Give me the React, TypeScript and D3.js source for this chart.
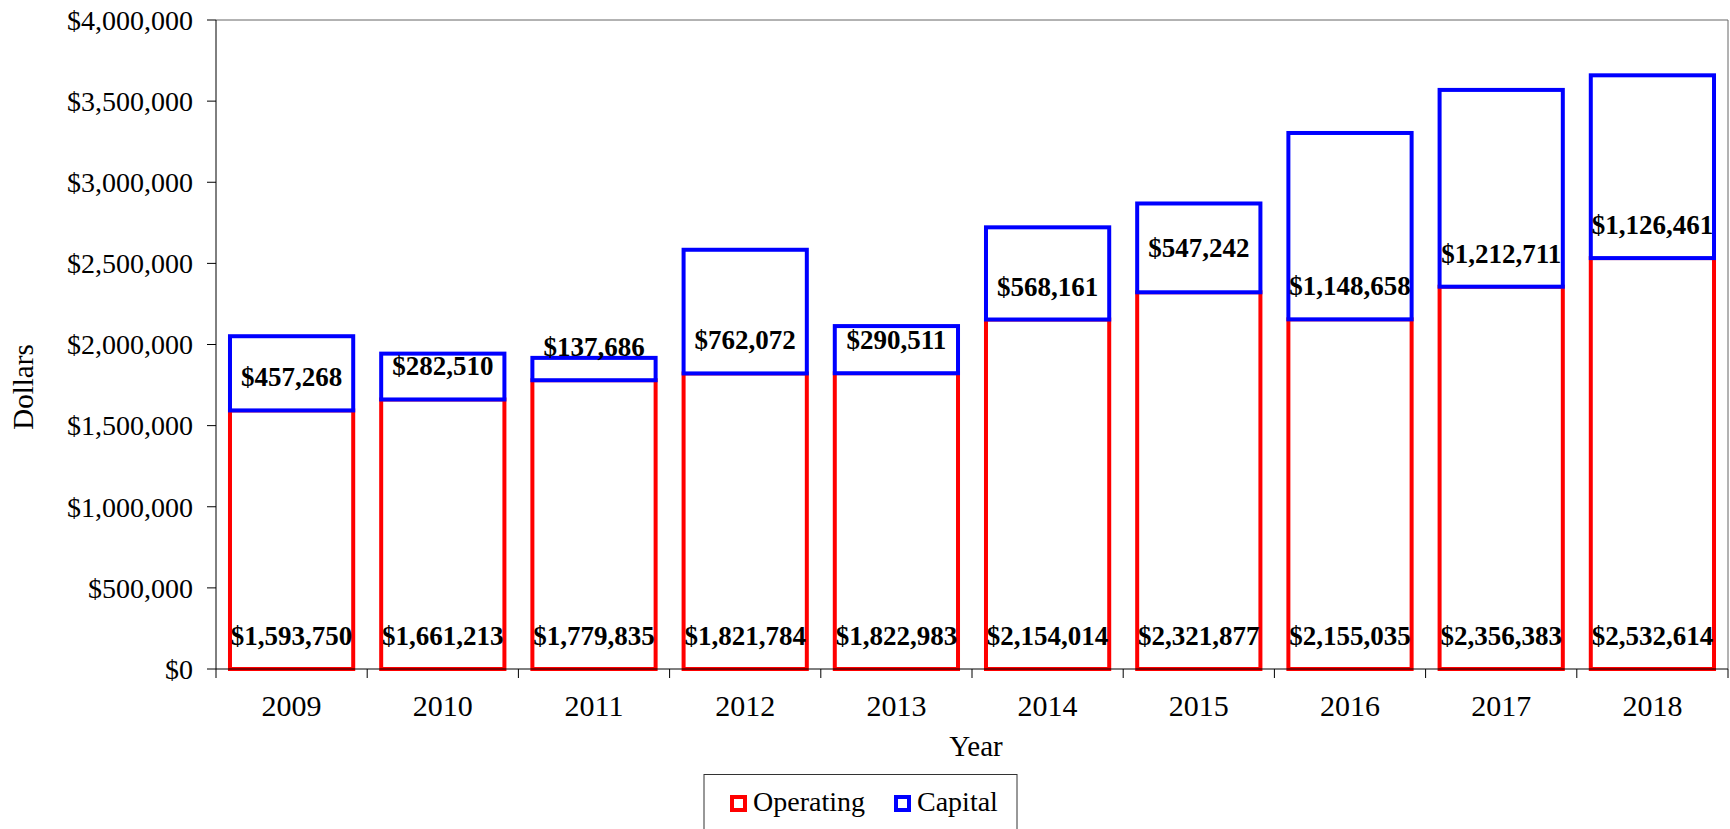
import * as d3 from "d3"

const years = ["2009", "2010", "2011", "2012", "2013", "2014", "2015", "2016", "2017", "2018"]
const operating = [1593750, 1661213, 1779835, 1821784, 1822983, 2154014, 2321877, 2155035, 2356383, 2532614]
const capital = [457268, 282510, 137686, 762072, 290511, 568161, 547242, 1148658, 1212711, 1126461]
const yTicks = [0, 500000, 1000000, 1500000, 2000000, 2500000, 3000000, 3500000, 4000000]

const W = 1730
const H = 829
const margin = { top: 20, right: 2, bottom: 160, left: 216 }
const font = "'Liberation Serif', 'Times New Roman', serif"
const RED = "#ff0000"
const BLUE = "#0000ff"

const fmt = (v: number) => "$" + d3.format(",")(v)

export default function App() {
  const x = d3.scaleBand<string>()
    .domain(years)
    .range([margin.left, W - margin.right])
    .paddingInner(0.185)
    .paddingOuter(0.0925)

  const y = d3.scaleLinear()
    .domain([0, 4000000])
    .range([H - margin.bottom, margin.top])

  const step = x.step()
  const x0 = margin.left
  const x1 = W - margin.right
  const y0 = y(0)
  const yTop = y(4000000)

  // labels sit just above the base of each segment; 2015's capital label was nudged up a bit
  const labelOffset = 24
  const capLift = (yr: string) => (yr === "2015" ? 11 : 0)

  return (
    <svg width={W} height={H} style={{ position: "absolute", left: 0, top: 0, background: "#fff" }}
      fontFamily={font}>
      {/* plot frame */}
      <line x1={x0} x2={x1} y1={yTop} y2={yTop} stroke="#666" strokeWidth={1} />
      <line x1={x1} x2={x1} y1={yTop} y2={y0} stroke="#666" strokeWidth={1} />

      {/* bars */}
      {years.map((yr, i) => {
        const bx = x(yr)!
        const bw = x.bandwidth()
        const op = operating[i]
        const cap = capital[i]
        return (
          <g key={yr}>
            <rect x={bx} width={bw} y={y(op)} height={y0 - y(op)} fill="#fff" stroke={RED} strokeWidth={4} />
            <rect x={bx} width={bw} y={y(op + cap)} height={y(op) - y(op + cap)} fill="#fff" stroke={BLUE} strokeWidth={4} />
          </g>
        )
      })}

      {/* data labels */}
      {years.map((yr, i) => {
        const cx = x(yr)! + x.bandwidth() / 2
        return (
          <g key={"lab" + yr} fontWeight="bold" fontSize={27} textAnchor="middle" fill="#000">
            <text x={cx} y={y0 - labelOffset}>{fmt(operating[i])}</text>
            <text x={cx} y={y(operating[i]) - labelOffset - capLift(yr)}>{fmt(capital[i])}</text>
          </g>
        )
      })}

      {/* y axis */}
      <line x1={x0} x2={x0} y1={yTop} y2={y0} stroke="#000" strokeWidth={1} />
      {yTicks.map(t => (
        <g key={t}>
          <line x1={x0 - 9} x2={x0} y1={y(t)} y2={y(t)} stroke="#000" strokeWidth={1} />
          <text x={193} y={y(t)} dy="0.35em" textAnchor="end" fontSize={28} fill="#000">{fmt(t)}</text>
        </g>
      ))}

      {/* x axis */}
      <line x1={x0} x2={x1} y1={y0} y2={y0} stroke="#000" strokeWidth={1} />
      {d3.range(years.length + 1).map(k => (
        <line key={k} x1={x0 + k * step} x2={x0 + k * step} y1={y0} y2={y0 + 9} stroke="#000" strokeWidth={1} />
      ))}
      {years.map(yr => (
        <text key={"t" + yr} x={x(yr)! + x.bandwidth() / 2} y={716} textAnchor="middle" fontSize={30} fill="#000">{yr}</text>
      ))}

      {/* axis titles */}
      <text x={976} y={756} textAnchor="middle" fontSize={29} fill="#000">Year</text>
      <text transform="translate(33,387) rotate(-90)" textAnchor="middle" fontSize={29} fill="#000">Dollars</text>

      {/* legend */}
      <rect x={704} y={774.5} width={313} height={80} fill="#fff" stroke="#333" strokeWidth={1} />
      <rect x={732} y={797} width={13} height={13} fill="#fff" stroke={RED} strokeWidth={4} />
      <text x={753} y={811} fontSize={28} fill="#000">Operating</text>
      <rect x={896} y={797} width={13} height={13} fill="#fff" stroke={BLUE} strokeWidth={4} />
      <text x={917} y={811} fontSize={28} fill="#000">Capital</text>
    </svg>
  )
}
